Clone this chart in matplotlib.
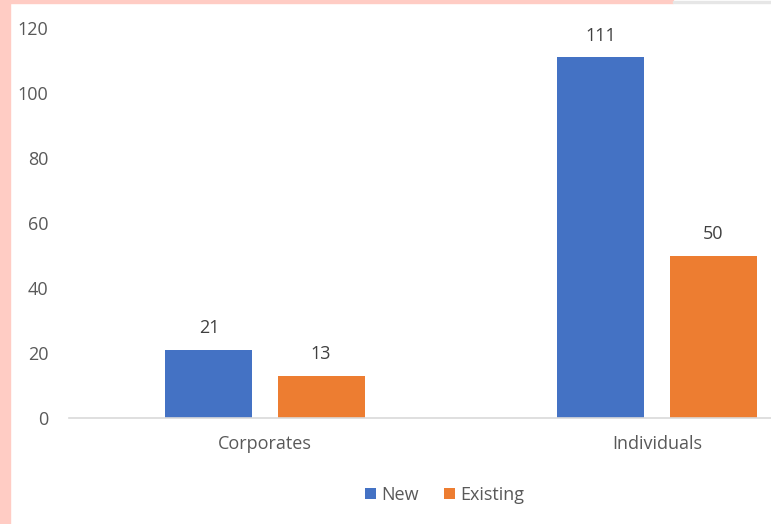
import matplotlib
matplotlib.use("Agg")
import matplotlib.pyplot as plt
from matplotlib.patches import Rectangle
import numpy as np

categories = ["Corporates", "Individuals"]
new_vals = [21, 111]
existing_vals = [13, 50]
yticks = [0, 20, 40, 60, 80, 100, 120]

BLUE = "#4472C4"
ORANGE = "#ED7D31"
GREY = "#595959"

plt.rcParams["font.family"] = ["Open Sans", "DejaVu Sans"]

W, H = 771, 524
fig = plt.figure(figsize=(W / 100, H / 100), dpi=100)

# chart is cropped on the right: axes runs past the figure edge
ax = fig.add_axes([69 / W, 106 / H, 784 / W, 390 / H])
x = np.arange(len(categories))
bw = 0.222
off = 0.143
b1 = ax.bar(x - off, new_vals, bw, color=BLUE, label="New")
b2 = ax.bar(x + off, existing_vals, bw, color=ORANGE, label="Existing")
for bars in (b1, b2):
    ax.bar_label(bars, padding=9, fontsize=13, color="#404040")

ax.set_xlim(-0.5, 1.5)
ax.set_ylim(0, 120)
ax.set_yticks(yticks)
ax.set_xticks(x, categories)
ax.tick_params(axis="both", length=0, labelsize=13, colors=GREY)
ax.tick_params(axis="y", pad=15)
ax.tick_params(axis="x", pad=12)
for s in ("top", "right", "left"):
    ax.spines[s].set_visible(False)
ax.spines["bottom"].set_color("#D9D9D9")
ax.spines["bottom"].set_linewidth(1.2)

leg = fig.legend(loc="center", bbox_to_anchor=(445 / W, 1 - 495 / H), ncol=2,
                 frameon=False, fontsize=13, handlelength=0.6, handleheight=0.6,
                 handletextpad=0.3, columnspacing=1.4)
for t in leg.get_texts():
    t.set_color(GREY)

# pink frame strips from the screenshot
fig.patches.append(Rectangle((0, 0), 10 / W, 1, transform=fig.transFigure,
                             color="#FFCCC4", zorder=5))
fig.patches.append(Rectangle((0, 1 - 3 / H), 673 / W, 3 / H, transform=fig.transFigure,
                             color="#FFCCC4", zorder=5))
fig.patches.append(Rectangle((673 / W, 1 - 3 / H), 1, 2 / H, transform=fig.transFigure,
                             color="#E6E6E6", zorder=5))

fig.savefig("out.png", dpi=100)
